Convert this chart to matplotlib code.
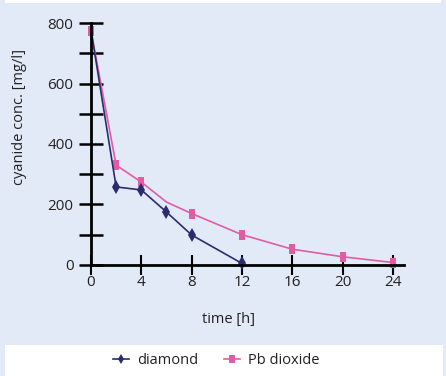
import matplotlib
matplotlib.use("Agg")
import matplotlib.pyplot as plt
from matplotlib.patches import Rectangle

plt.rcParams['font.family'] = ['Open Sans', 'DejaVu Sans']

# Data
diamond_t = [0, 2, 4, 6, 8, 12]
diamond_v = [778, 258, 248, 175, 99, 5]
pb_t = [0, 2, 4, 6, 8, 12, 16, 20, 24]
pb_v = [775, 330, 274, 208, 170, 100, 52, 27, 8]
pb_marked = [0, 1, 2, 4, 5, 6, 7, 8]
x_ticks = [0, 4, 8, 12, 16, 20, 24]
y_major = [0, 200, 400, 600, 800]
y_minor = [100, 300, 500, 700]

bg = '#e3eaf7'
navy = '#2b2b6e'
pink = '#e05ca3'
txt = '#222222'

W, H = 446, 376
fig = plt.figure(figsize=(W / 100, H / 100), dpi=100)
fig.patch.set_facecolor(bg)
# white strips
fig.patches.append(Rectangle((5 / W, 0), 438 / W, 31 / H, transform=fig.transFigure,
                             facecolor='white', edgecolor='none', zorder=0))
fig.patches.append(Rectangle((5 / W, (H - 2.5) / H), 436 / W, 2.5 / H, transform=fig.transFigure,
                             facecolor='white', edgecolor='none', zorder=0))

ax = fig.add_axes([0.1814, 0.2793, 0.9094 - 0.1814, 0.9548 - 0.2793])
ax.set_facecolor('none')
ax.set_xlim(-0.8, 25.0)
ax.set_ylim(-20, 820)

rect = [(-0.75, -1), (0.75, -1), (0.75, 1), (-0.75, 1), (-0.75, -1)]

ax.plot(diamond_t, diamond_v, color=navy, lw=1.2, marker='d', ms=7.5, mew=0,
        markevery=list(range(1, len(diamond_t))),
        label='diamond', clip_on=False, zorder=3)
ax.plot(pb_t, pb_v, color=pink, lw=1.2, marker=rect, ms=6.5, mew=0,
        markevery=pb_marked, label='Pb dioxide', clip_on=False, zorder=2)

for s in ['top', 'right']:
    ax.spines[s].set_visible(False)
ax.spines['left'].set_position(('data', 0))
ax.spines['bottom'].set_position(('data', 0))
ax.spines['left'].set_bounds(0, 800)
ax.spines['bottom'].set_bounds(0, 24.9)
for s in ['left', 'bottom']:
    ax.spines[s].set_linewidth(2)
    ax.spines[s].set_color('black')
    ax.spines[s].set_zorder(5)

ax.set_xticks(x_ticks)
ax.set_yticks(y_major)
ax.set_yticks(y_minor, minor=True)
ax.tick_params(axis='y', which='both', direction='inout', length=17, width=1.8,
               colors='black', labelcolor=txt, labelsize=11, pad=4)
ax.tick_params(axis='x', which='both', direction='inout', length=14, width=1.5,
               colors='black', labelcolor=txt, labelsize=11, pad=0)
ax.set_xlabel('time [h]', fontsize=10.5, color=txt)
ax.set_ylabel('cyanide conc. [mg/l]', fontsize=10.5, color=txt)
ax.yaxis.set_label_coords(-0.166, 0.606)
ax.xaxis.set_label_coords(0.456, -0.16)

leg = fig.legend(loc='center', bbox_to_anchor=(0.485, 15.5 / H), ncol=2, frameon=False,
                 fontsize=10.5, handlelength=1.1, columnspacing=1.7, handletextpad=0.6,
                 labelcolor=txt)
for h in leg.legend_handles:
    h.set_markersize(5.5)

fig.savefig('out.png', dpi=100, facecolor=bg)
